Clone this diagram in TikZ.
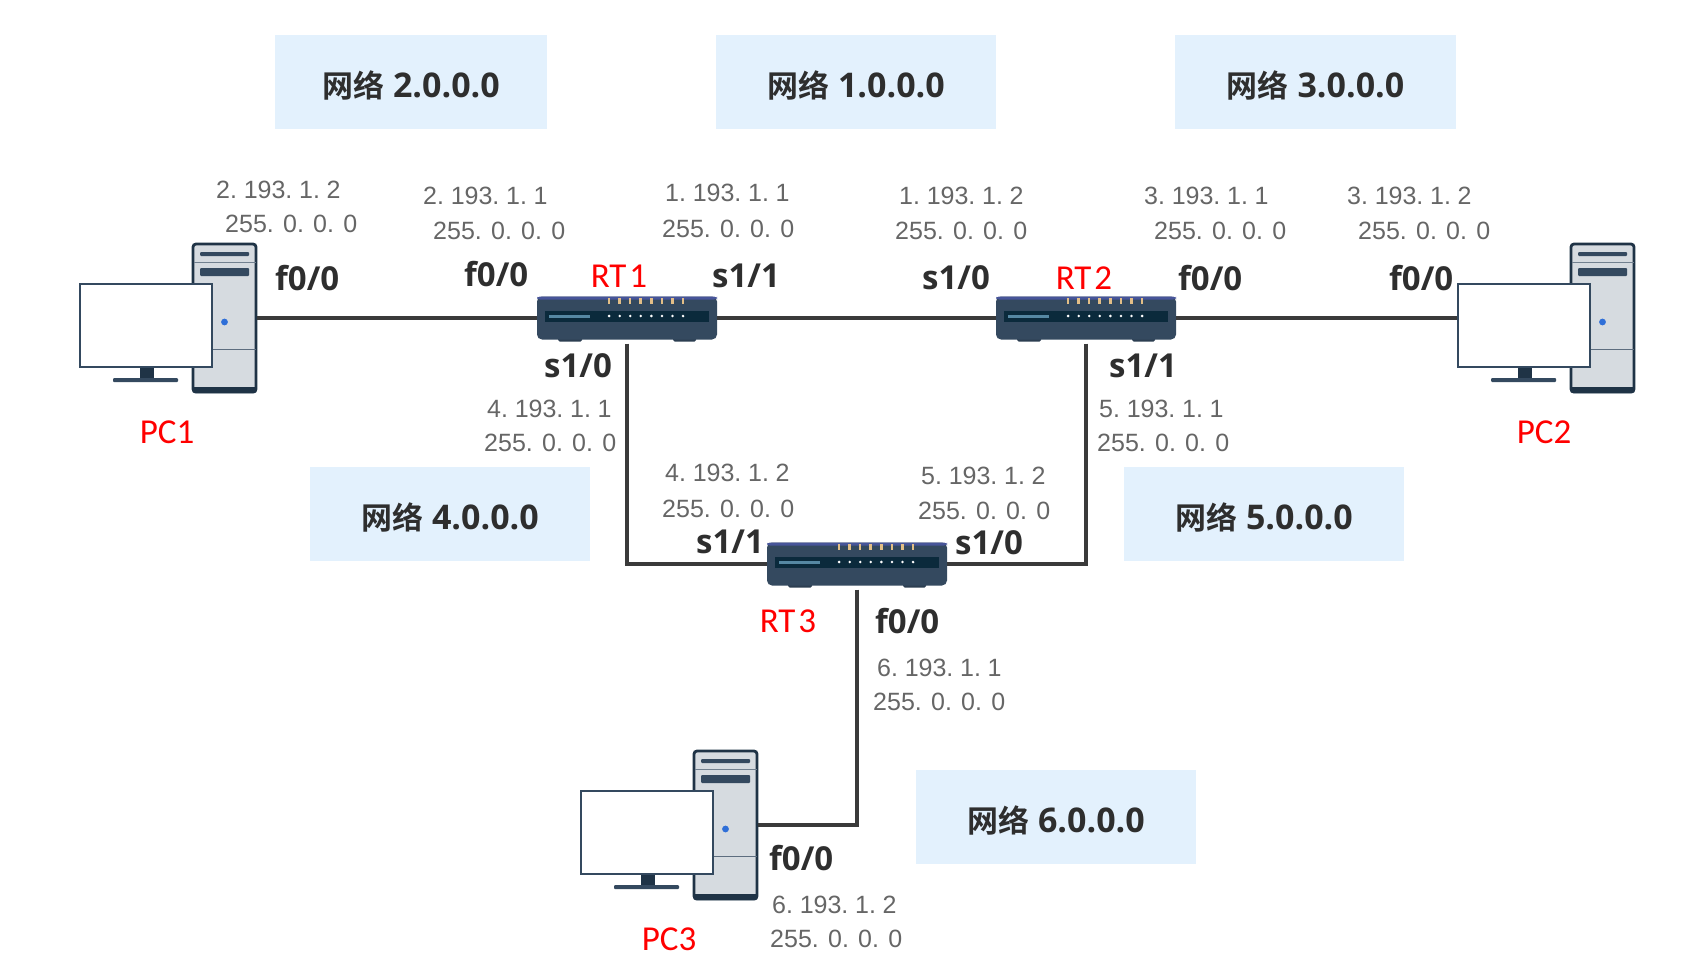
\documentclass[tikz,border=0pt]{standalone}
\usepackage{fontspec}
\setmainfont{Liberation Sans}
\newfontfamily\cjkbold[BoldFont={Noto Sans CJK SC Bold}]{Noto Sans CJK SC}
\newfontfamily\latbold[BoldFont={Open Sans Bold}]{Open Sans}
\newfontfamily\redfont{Carlito}
\definecolor{netblue}{HTML}{E3F1FD}
\definecolor{wire}{HTML}{3A3A3A}
\definecolor{navy}{HTML}{1F3346}
\definecolor{slate}{HTML}{34495F}
\definecolor{caseg}{HTML}{D6DBE0}
\definecolor{slot}{HTML}{0B2A3C}
\definecolor{lamp}{HTML}{E3BE86}
\definecolor{ledblue}{HTML}{2F6FD8}
% Caption of a network: Chinese word followed by the address
\newcommand{\netcap}[1]{\raisebox{-15.5pt}[0pt][0pt]{{\cjkbold\bfseries\fontsize{31}{33}\selectfont 网络}{\latbold\bfseries\fontsize{34}{36}\selectfont{} #1}}}
\newcommand{\ipfont}{\fontsize{25}{27}\selectfont\spaceskip 4.4pt\relax}
\newcommand{\namefont}{\redfont\fontsize{35}{37}\selectfont\spaceskip 3pt\relax}
\tikzset{
  x=1pt,y=-1pt,
  netbox/.style={fill=netblue,minimum width=280pt,minimum height=94pt,inner sep=0pt,text=black!82},
  iptext/.style={anchor=west,inner sep=0pt,text=black!60,font=\fontsize{25}{27}\selectfont},
  ipaddr/.style={iptext,font=\ipfont},
  iface/.style={anchor=west,inner sep=0pt,text=black!82,font=\latbold\bfseries\fontsize{33}{35}\selectfont},
  devname/.style={inner sep=0pt,text=red,font=\namefont},
  link/.style={draw=wire,line width=3.6pt,line join=miter},
  routerbody/.style={fill=slate,rounded corners=5pt,minimum width=180pt,minimum height=43pt,inner sep=0pt},
  towerbody/.style={fill=caseg,draw=navy,line width=2.8pt,rounded corners=3pt,minimum width=63pt,minimum height=148pt,inner sep=0pt},
  screen/.style={fill=white,draw=slate,line width=2.2pt,minimum width=132.5pt,minimum height=83pt,inner sep=0pt},
}
% Desktop computer drawn around its tower node: \pcunit{name}{x}{y}
\newcommand{\pcunit}[3]{%
  \node[towerbody] (#1) at (#2,#3) {};
  \begin{scope}[shift={(#2,#3)}]
    \fill[navy,rounded corners=2pt] (-32,69) rectangle (32,75);
    \draw[slate!70,line width=1pt] (-31,-56) -- (31,-56);
    \draw[slate!80,line width=1pt] (-31,31) -- (31,31);
    \fill[slate,rounded corners=1pt] (-24.5,-66) rectangle (24.5,-62);
    \fill[slate,rounded corners=1pt] (-24.5,-50) rectangle (24.5,-42);
    \fill[ledblue] (0,4) circle (3.4);
    \fill[navy] (-85,48) rectangle (-71,60);
    \fill[slate,rounded corners=1pt] (-111.5,60) rectangle (-46.5,64);
    \node[screen] (#1m) at (-78.5,7.5) {};
  \end{scope}}
% Router front panel drawn around its body node: \rtunit{name}{x}{y}
\newcommand{\rtunit}[3]{%
  \begin{scope}[shift={(#2,#3)}]
    \fill[slate!85!black,rounded corners=1.5pt] (-69,18) rectangle (-45,23.5);
    \fill[slate!85!black,rounded corners=1.5pt] (46,18) rectangle (69,23.5);
  \end{scope}
  \node[routerbody] (#1) at (#2,#3) {};
  \begin{scope}[shift={(#2,#3)}]
    \fill[slate!75!blue!85!white,rounded corners=3pt] (-90,-21.5) rectangle (90,-18.5);
    \fill[slot] (-82,-7.5) rectangle (82,3.5);
    \fill[cyan!40!slate] (-78,-3.5) rectangle (-37,-0.5);
    \foreach \k in {0,...,7}{
      \fill[lamp] (-19.3+\k*10.57,-20.5) rectangle (-16.7+\k*10.57,-14.5);
      \fill[white] (-17.9+\k*10.57,-2) circle (1.4);
    }
  \end{scope}}
\begin{document}
\begin{tikzpicture}
\useasboundingbox (0,0) rectangle (1691,979);
\fill[white] (0,0) rectangle (1691,979);

% network captions
\node[netbox,minimum width=272pt] (n2) at (411,82) {\netcap{2.0.0.0}};
\node[netbox] (n1) at (856,82) {\netcap{1.0.0.0}};
\node[netbox,minimum width=281pt] (n3) at (1315.5,82) {\netcap{3.0.0.0}};
\node[netbox] (n4) at (450,514) {\netcap{4.0.0.0}};
\node[netbox] (n5) at (1264,514) {\netcap{5.0.0.0}};
\node[netbox] (n6) at (1056,817) {\netcap{6.0.0.0}};

% devices
\pcunit{pc1}{224.5}{318}
\pcunit{pc2}{1602.5}{318}
\pcunit{pc3}{725.5}{825}
\rtunit{rt1}{627}{318}
\rtunit{rt2}{1086}{318}
\rtunit{rt3}{857}{564}

% links
\draw[link] (pc1.east) -- (rt1.west);
\draw[link] (rt1.east) -- (rt2.west);
\draw[link] (rt2.east) -- (rt2.east -| pc2m.west);
\draw[link,shorten <=4pt] (rt1.south) |- (rt3.west);
\draw[link,shorten <=4pt] (rt2.south) |- (rt3.east);
\draw[link,shorten <=4pt] (rt3.south) |- (pc3.east);

% address labels
\node[ipaddr] (a1) at (216,190) {2. 193. 1. 2};
\node[iptext] (a2) at (225,224) {255. 0. 0. 0};
\node[ipaddr] (a3) at (423,196) {2. 193. 1. 1};
\node[iptext] (a4) at (433,231) {255. 0. 0. 0};
\node[ipaddr] (a5) at (665,193) {1. 193. 1. 1};
\node[iptext] (a6) at (662,229) {255. 0. 0. 0};
\node[ipaddr] (a7) at (899,196) {1. 193. 1. 2};
\node[iptext] (a8) at (895,231) {255. 0. 0. 0};
\node[ipaddr] (a9) at (1144,196) {3. 193. 1. 1};
\node[iptext] (a10) at (1154,231) {255. 0. 0. 0};
\node[ipaddr] (a11) at (1347,196) {3. 193. 1. 2};
\node[iptext] (a12) at (1358,231) {255. 0. 0. 0};
\node[ipaddr] (a13) at (487,409) {4. 193. 1. 1};
\node[iptext] (a14) at (484,443) {255. 0. 0. 0};
\node[ipaddr] (a15) at (1099,409) {5. 193. 1. 1};
\node[iptext] (a16) at (1097,443) {255. 0. 0. 0};
\node[ipaddr] (a17) at (665,473) {4. 193. 1. 2};
\node[iptext] (a18) at (662,509) {255. 0. 0. 0};
\node[ipaddr] (a19) at (921,476) {5. 193. 1. 2};
\node[iptext] (a20) at (918,511) {255. 0. 0. 0};
\node[ipaddr] (a21) at (877,668) {6. 193. 1. 1};
\node[iptext] (a22) at (873,702) {255. 0. 0. 0};
\node[ipaddr] (a23) at (772,905) {6. 193. 1. 2};
\node[iptext] (a24) at (770,939) {255. 0. 0. 0};

% interface labels
\node[iface] (i1) at (275,278) {f0/0};
\node[iface] (i2) at (464,274) {f0/0};
\node[iface] (i3) at (712,276) {s1/1};
\node[iface] (i4) at (922,278) {s1/0};
\node[iface] (i5) at (1178,278) {f0/0};
\node[iface] (i6) at (1389,278) {f0/0};
\node[iface] (i7) at (544,366) {s1/0};
\node[iface] (i8) at (1109,366) {s1/1};
\node[iface] (i9) at (696,542) {s1/1};
\node[iface] (i10) at (955,543) {s1/0};
\node[iface] (i11) at (875,621) {f0/0};
\node[iface] (i12) at (769,858) {f0/0};

% device names
\node[devname] (l1) at (619,276) {RT 1};
\node[devname] (l2) at (1084,278) {RT 2};
\node[devname] (l3) at (788,621) {RT 3};
\node[devname] (l4) at (167,432) {PC1};
\node[devname] (l5) at (1544,432) {PC2};
\node[devname] (l6) at (669,939) {PC3};
\end{tikzpicture}
\end{document}
